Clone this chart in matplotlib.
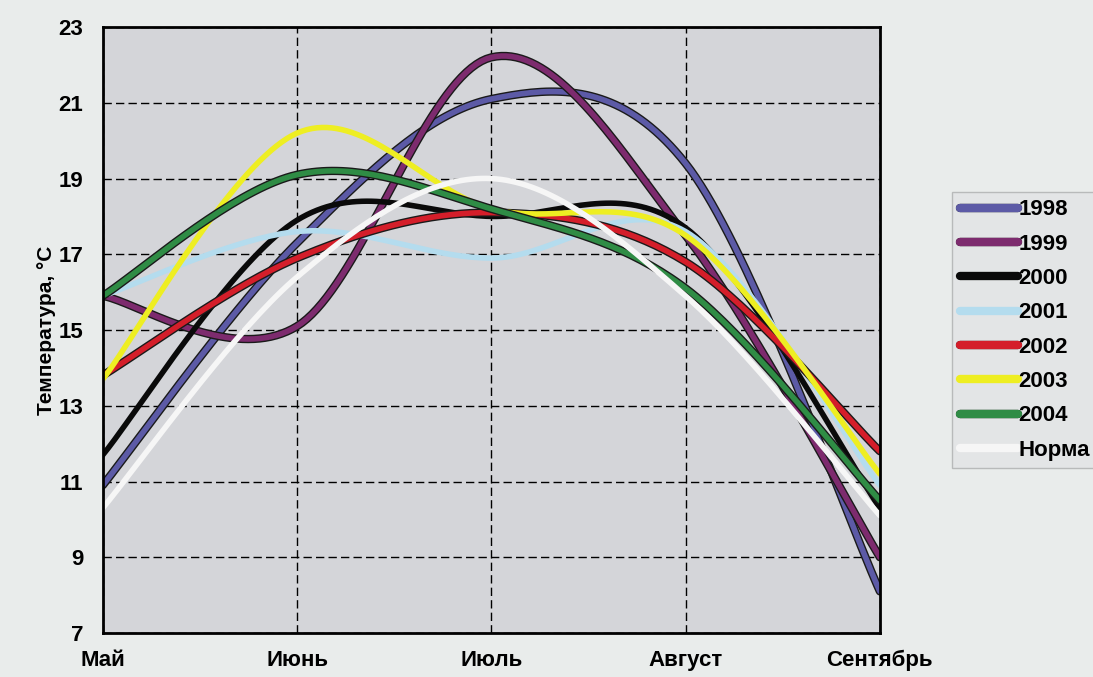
import numpy as np
import matplotlib.pyplot as plt
import matplotlib.patheffects as pe


months = ['Май', 'Июнь', 'Июль', 'Август', 'Сентябрь']
years = ['1998', '1999', '2000', '2001', '2002', '2003', '2004', 'Норма']

t_1998 = [10.9, 17.3, 21.1, 19.4, 8.1]
t_1999 = [15.9, 15.1, 22.2, 17.5, 9.0]
t_2000 = [11.7, 17.9, 18.0, 17.7, 10.3]
t_2001 = [15.9, 17.6, 16.9, 17.6, 10.9]
t_2002 = [13.8, 16.9, 18.1, 16.8, 11.8]
t_2003 = [13.7, 20.2, 18.2, 17.5, 11.2]
t_2004 = [15.9, 19.1, 18.2, 16.1, 10.5]
t_norm = [10.3, 16.4, 19.0, 15.9, 10.1]

series = [t_1998, t_1999, t_2000, t_2001, t_2002, t_2003, t_2004, t_norm]
colors = ['#5c5aa6', '#7d2b6e', '#0a0a0a', '#b4dcee', '#d41e2a',
          '#eeee22', '#2f8c45', '#f6f6f6']
outlined = [True, True, False, False, True, False, True, False]


def smooth(xs, ys, steps=40):
    # excel-like bezier smoothing through every point
    xs = np.asarray(xs, float)
    ys = np.asarray(ys, float)
    px = np.concatenate([[xs[0]], xs, [xs[-1]]])
    py = np.concatenate([[ys[0]], ys, [ys[-1]]])
    out_x, out_y = [], []
    t = np.linspace(0, 1, steps)
    for i in range(1, len(px) - 2):
        p0 = np.array([px[i], py[i]])
        p3 = np.array([px[i + 1], py[i + 1]])
        c1 = p0 + (np.array([px[i + 1], py[i + 1]]) - np.array([px[i - 1], py[i - 1]])) / 6
        c2 = p3 - (np.array([px[i + 2], py[i + 2]]) - np.array([px[i], py[i]])) / 6
        b = ((1 - t) ** 3)[:, None] * p0 + (3 * (1 - t) ** 2 * t)[:, None] * c1 \
            + (3 * (1 - t) * t ** 2)[:, None] * c2 + (t ** 3)[:, None] * p3
        out_x.extend(b[:, 0])
        out_y.extend(b[:, 1])
    return out_x, out_y


fig = plt.figure(figsize=(10.93, 6.77), dpi=100, facecolor='#e9eceb')
ax = fig.add_axes([0.094, 0.065, 0.711, 0.895])
ax.set_facecolor('#d4d5d9')

x = np.arange(len(months))
for name, vals, color, edge in zip(years, series, colors, outlined):
    sx, sy = smooth(x, vals)
    effects = [pe.Stroke(linewidth=6, foreground='#1a1a1a'), pe.Normal()] if edge else None
    ax.plot(sx, sy, color=color, linewidth=4, label=name,
            path_effects=effects, solid_capstyle='round')

ax.set_xlim(0, 4)
ax.set_ylim(7, 23)
ax.set_yticks(range(7, 24, 2))
ax.set_xticks(x)
ax.set_xticklabels(months)
ax.grid(True, color='black', linestyle=(0, (6, 3)), linewidth=1)
ax.set_axisbelow(True)
for spine in ax.spines.values():
    spine.set_linewidth(2)
ax.tick_params(axis='y', length=0, labelsize=16, pad=14)
ax.tick_params(axis='x', length=0, labelsize=16, pad=12)
for lbl in ax.get_xticklabels() + ax.get_yticklabels():
    lbl.set_fontweight('bold')
    lbl.set_fontfamily('Liberation Sans')
ax.set_ylabel('Температура, °С', fontsize=15, fontweight='bold',
              fontfamily='Liberation Sans', labelpad=2)

leg = fig.legend(loc='upper left', bbox_to_anchor=(0.871, 0.717),
                 prop={'family': 'Liberation Sans', 'weight': 'bold', 'size': 16},
                 handlelength=2.6, labelspacing=0.6, handletextpad=0.05,
                 borderpad=0.35, borderaxespad=0, fancybox=False, framealpha=1)
leg.get_frame().set_facecolor('#e3e5e6')
leg.get_frame().set_edgecolor('#b8baba')
for line in leg.get_lines():
    line.set_linewidth(6)

fig.savefig('out.png', dpi=100, facecolor=fig.get_facecolor())
